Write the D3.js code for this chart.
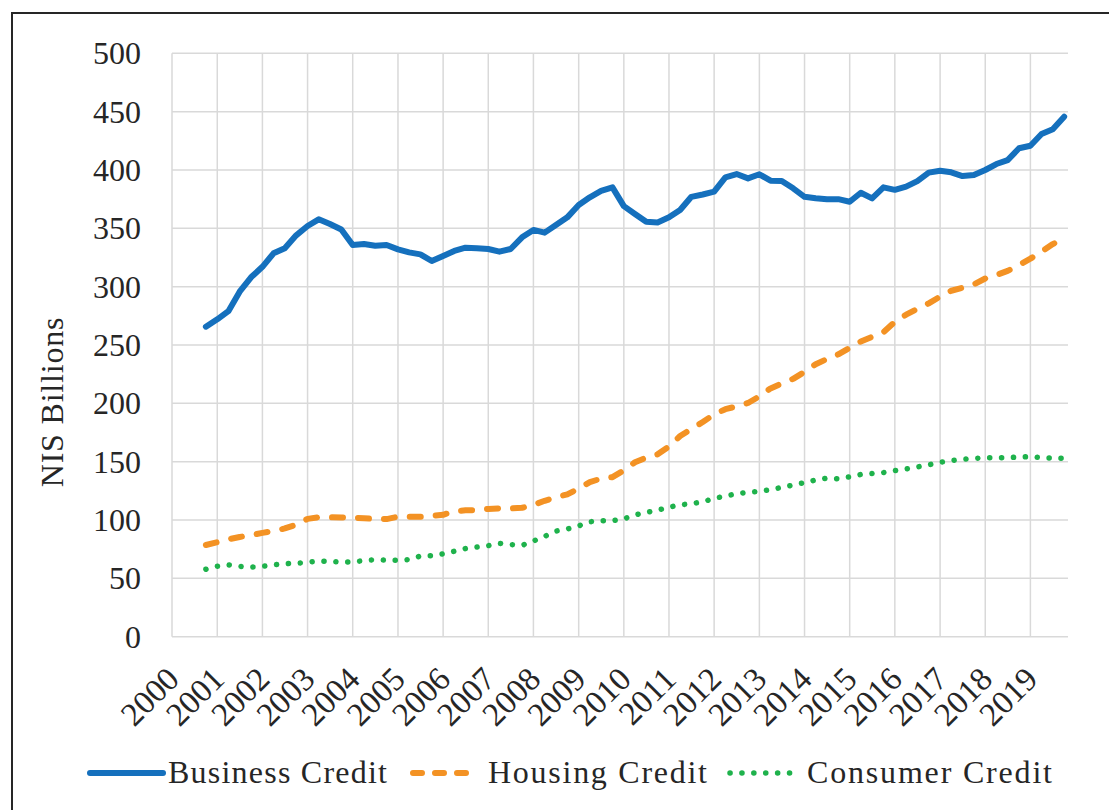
<!DOCTYPE html>
<html>
<head>
<meta charset="utf-8">
<script src="https://cdn.jsdelivr.net/npm/d3@7"></script>
<style>
  body { margin: 0; background: #fff; }
  svg text { font-family: "Liberation Serif", "Times New Roman", serif; fill: #262626; }
</style>
</head>
<body>
<div id="chart"></div>
<script>
// quarterly readings, Q4 2000 .. Q4 2019 (NIS billions)
var business = [265.7, 272, 279, 295.7, 308, 317, 328.6, 333, 344, 352, 357.7, 353.7, 349, 335.7, 336.5, 335,
  335.7, 332, 329.4, 327.7, 322, 326.3, 330.6, 333.4, 333, 332.3, 330, 332.3, 342.3, 348.6, 346.3, 352.8,
  359.4, 370, 376.6, 382, 385.1, 369, 362.3, 355.7, 355, 359.4, 365.7, 377, 379, 381.4, 393.7, 396.5,
  392.8, 396.3, 390.8, 390.5, 384.3, 377, 375.7, 374.9, 375, 372.8, 380.5, 375.7, 385.1, 383, 385.7,
  390.5, 397.7, 399.4, 398, 394.8, 395.7, 400, 405.1, 408.5, 418.6, 420.8, 430.8, 434.9, 445.7];

var housing = [78.6, 81, 83.5, 85.5, 87, 89, 90.5, 92.8, 96, 101, 102.3, 102.3, 102.2, 102, 101.5, 101,
  100.8, 102.8, 102.8, 102.8, 103.5, 104.5, 107.5, 108.3, 108.6, 109.5, 110, 110, 110.5, 113, 116.5, 119.5,
  122, 127, 132.5, 135.5, 136.7, 142.5, 149.5, 153.5, 156.3, 163, 172, 178, 184, 190.5, 195, 197.4,
  200.3, 206, 212.8, 217, 221, 227, 233.5, 238, 242, 247.5, 253, 257, 261, 269.8, 276,
  281, 285.7, 291.5, 296.5, 299, 302, 307, 310, 313.5, 318.5, 324, 330, 336.5, 341.5];

var consumer = [57.8, 60.4, 61.6, 60.3, 59.6, 60.3, 61.5, 62.6, 62.9, 63.8, 64.9, 64.6, 63.9, 64.1, 65.2, 66.1,
  65.5, 65.5, 66.1, 69.2, 69.4, 71, 73.2, 75.5, 76.8, 78, 80, 79, 78.3, 82, 86, 90.5,
  92.3, 95, 98.5, 99.4, 99.4, 101, 104.4, 106.5, 108.4, 111, 113, 114, 115.6, 118.5, 120.5, 122.5,
  123.8, 124.5, 126, 128, 130, 132, 134.3, 135.8, 135.4, 137, 139, 139.8, 140.6, 142.3, 143.8,
  145.5, 147.3, 149.5, 151, 152, 152.8, 153.4, 153.4, 153.5, 154, 154.3, 153.4, 153.1, 153];

var yTicks = [0, 50, 100, 150, 200, 250, 300, 350, 400, 450, 500];
var seriesNames = ["Business Credit", "Housing Credit", "Consumer Credit"];
var seriesColors = ["#1570bd", "#f39224", "#1fb24c"];
var dashes = [null, "11,15", "0.1,11.8"];

var width = 1109,
    height = 810,
    plotLeft = 172,
    plotRight = 1068,
    plotTop = 53.3,
    plotBottom = 636.7;

var quarters = d3.timeMonth.every(3).range(new Date(2000, 9, 1), new Date(2019, 10, 1));
var years = d3.timeYear.range(new Date(2000, 0, 1), new Date(2020, 0, 1));

var x = d3.scaleTime()
    .domain([new Date(2000, 0, 1), new Date(2019, 10, 1)])
    .range([plotLeft, plotRight]);

var y = d3.scaleLinear()
    .domain([0, 500])
    .range([plotBottom, plotTop]);

var svg = d3.select("#chart").append("svg")
    .attr("width", width)
    .attr("height", height);

// outer frame (runs off the right/bottom edge)
svg.append("rect")
    .attr("x", 12).attr("y", 13)
    .attr("width", width + 20).attr("height", height + 20)
    .attr("fill", "none")
    .attr("stroke", "#262626")
    .attr("stroke-width", 2);

// grid
svg.append("g").selectAll("line")
    .data(years)
    .enter().append("line")
    .attr("x1", function (d) { return x(d); })
    .attr("x2", function (d) { return x(d); })
    .attr("y1", plotTop).attr("y2", plotBottom)
    .attr("stroke", "#d9d9d9")
    .attr("stroke-width", 1.5);

svg.append("g").selectAll("line")
    .data(yTicks)
    .enter().append("line")
    .attr("x1", plotLeft).attr("x2", plotRight)
    .attr("y1", function (d) { return y(d); })
    .attr("y2", function (d) { return y(d); })
    .attr("stroke", "#d9d9d9")
    .attr("stroke-width", 1.5);

// y tick labels
svg.append("g").selectAll("text")
    .data(yTicks)
    .enter().append("text")
    .attr("x", 141)
    .attr("y", function (d) { return y(d) + 11; })
    .attr("text-anchor", "end")
    .style("font-size", "32px")
    .text(function (d) { return d; });

// x tick labels, rotated
svg.append("g").selectAll("text")
    .data(years)
    .enter().append("text")
    .attr("transform", function (d) { return "translate(" + (x(d) + 9) + ",681) rotate(-45)"; })
    .attr("text-anchor", "end")
    .style("font-size", "33px")
    .text(function (d) { return d.getFullYear(); });

svg.append("text")
    .attr("transform", "translate(52,402) rotate(-90)")
    .attr("text-anchor", "middle")
    .attr("dominant-baseline", "central")
    .style("font-size", "32px")
    .style("letter-spacing", "0.8px")
    .text("NIS Billions");

var line = d3.line()
    .x(function (d, i) { return x(quarters[i]); })
    .y(function (d) { return y(d); });

var allSeries = [business, housing, consumer];

// draw consumer first so business sits on top
[2, 1, 0].forEach(function (k) {
    svg.append("path")
        .datum(allSeries[k])
        .attr("d", line)
        .attr("fill", "none")
        .attr("stroke", seriesColors[k])
        .attr("stroke-width", k == 2 ? 5.5 : 6)
        .attr("stroke-linecap", "round")
        .attr("stroke-linejoin", "round")
        .attr("stroke-dasharray", dashes[k]);
});

// legend
var legendX = [[90, 163], [413, 474], [730, 793]],
    labelX = [168, 488, 807],
    labelW = [219, 219, 245],
    legendY = 773;

var lg = svg.append("g").selectAll("g")
    .data(seriesNames)
    .enter().append("g");

lg.append("line")
    .attr("x1", function (d, i) { return legendX[i][0]; })
    .attr("x2", function (d, i) { return legendX[i][1]; })
    .attr("y1", legendY).attr("y2", legendY)
    .attr("stroke", function (d, i) { return seriesColors[i]; })
    .attr("stroke-width", function (d, i) { return i == 2 ? 5.5 : 6; })
    .attr("stroke-linecap", "round")
    .attr("stroke-dasharray", function (d, i) { return i == 1 ? "9,13" : dashes[i]; });

lg.append("text")
    .attr("x", function (d, i) { return labelX[i]; })
    .attr("y", legendY + 10)
    .attr("textLength", function (d, i) { return labelW[i]; })
    .attr("lengthAdjust", "spacing")
    .style("font-size", "32px")
    .text(function (d) { return d; });
</script>
</body>
</html>
